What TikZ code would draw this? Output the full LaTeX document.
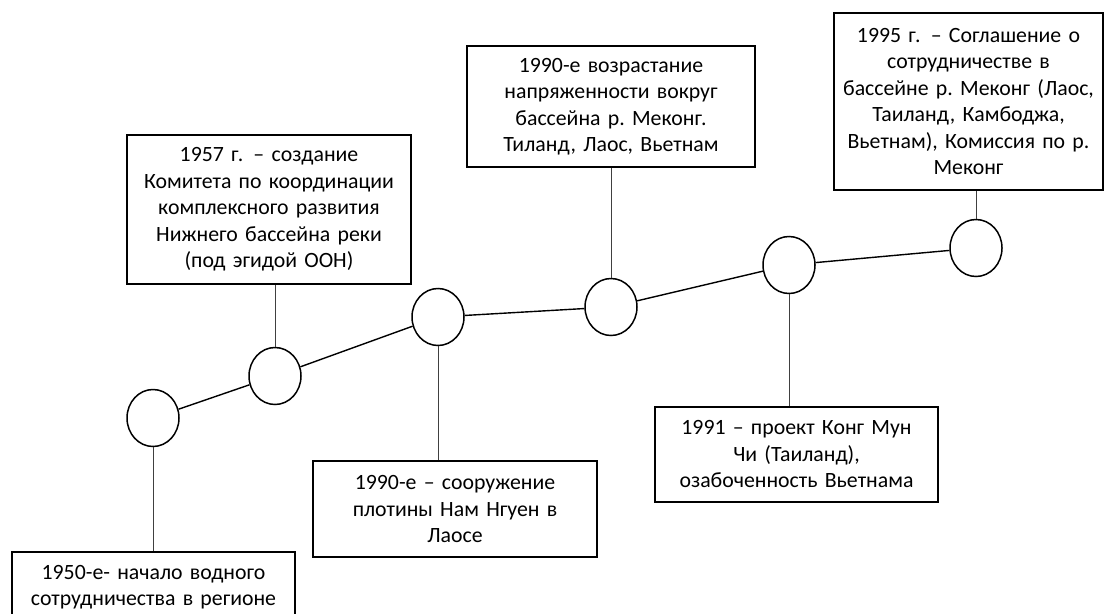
\documentclass[tikz,border=0pt]{standalone}
\usepackage{fontspec}
\setmainfont{Carlito}
\usetikzlibrary{shapes.geometric}
\frenchspacing
\begin{document}
\begin{tikzpicture}[x=1pt,y=-1pt,
  ev/.style={draw, line width=1.5pt, ellipse, minimum width=52pt, minimum height=57pt, inner sep=0pt},
  box/.style={draw, line width=1.6pt, align=center, inner sep=0pt, font=\fontsize{21.8}{26.5}\selectfont},
  tl/.style={line width=1.4pt},
  lk/.style={line width=0.9pt, black!75}]
\useasboundingbox (0,0) rectangle (1105,613);
% events
\node[ev] (c1) at (153,418) {};
\node[ev] (c2) at (275,376) {};
\node[ev] (c3) at (438,317) {};
\node[ev] (c4) at (611,307) {};
\node[ev] (c5) at (789,265) {};
\node[ev] (c6) at (976,248) {};
\draw[tl] (c1) -- (c2);
\draw[tl] (c2) -- (c3);
\draw[tl] (c3) -- (c4);
\draw[tl] (c4) -- (c5);
\draw[tl] (c5) -- (c6);
% boxes
\node[box, text width=283pt, minimum height=70pt] (b1) at (153.5,587) {1950-е- начало водного\\сотрудничества в регионе};
\node[box, text width=284pt, minimum height=149pt] (b2) at (269,209.5) {1957 г.\hspace{3pt} – создание\\Комитета по координации\\комплексного развития\\Нижнего бассейна реки\\(под эгидой ООН)};
\node[box, text width=284pt, minimum height=96pt] (b3) at (455,509) {1990-е – сооружение\\плотины Нам Нгуен в\\Лаосе};
\node[box, text width=288pt, minimum height=121pt] (b4) at (611,106.5) {1990-е возрастание\\напряженности вокруг\\бассейна р. Меконг.\\Тиланд, Лаос, Вьетнам};
\node[box, text width=283pt, minimum height=95pt] (b5) at (796.5,454.5) {1991 – проект Конг Мун\\Чи (Таиланд),\\озабоченность Вьетнама};
\node[box, text width=269pt, minimum height=177pt] (b6) at (968.5,101.5) {1995 г.\hspace{3pt} – Соглашение о\\сотрудничестве в\\бассейне р. Меконг (Лаос,\\Таиланд, Камбоджа,\\Вьетнам), Комиссия по р.\\Меконг};
% links
\draw[lk] (c1.south) -- (c1.south |- b1.north);
\draw[lk] (c2.north) -- (c2.north |- b2.south);
\draw[lk] (c3.south) -- (c3.south |- b3.north);
\draw[lk] (c4.north) -- (c4.north |- b4.south);
\draw[lk] (c5.south) -- (c5.south |- b5.north);
\draw[lk] (c6.north) -- (c6.north |- b6.south);
\end{tikzpicture}
\end{document}
